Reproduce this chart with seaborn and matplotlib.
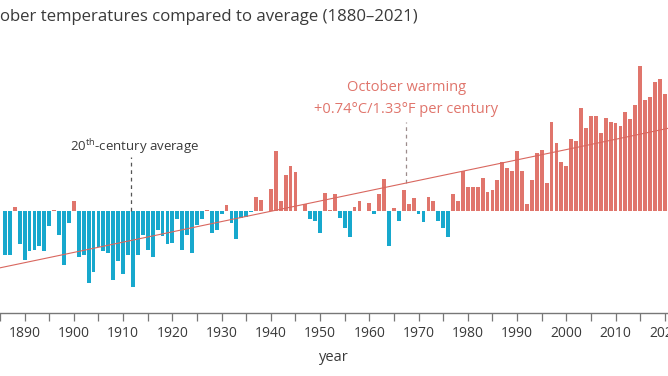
import numpy as np
import pandas as pd
import matplotlib
matplotlib.use("Agg")
import matplotlib.pyplot as plt
import seaborn as sns

# ---- data (October global temperature anomaly vs 20th-century average, deg C) ----
first_year = 1886
anomaly_c = [
    -0.32, -0.32, 0.03, -0.24,                                            # 1886-1889
    -0.35, -0.29, -0.28, -0.25, -0.29, -0.11, 0.01, -0.17, -0.39, -0.09,  # 1890s
    0.07, -0.33, -0.32, -0.52, -0.44, -0.26, -0.29, -0.30, -0.50, -0.36,  # 1900s
    -0.45, -0.32, -0.55, -0.32, -0.17, -0.28, -0.33, -0.14, -0.18, -0.24, # 1910s
    -0.23, -0.06, -0.28, -0.17, -0.30, -0.10, -0.06, 0.01, -0.16, -0.14,  # 1920s
    -0.02, 0.04, -0.09, -0.20, -0.05, -0.04, -0.01, 0.10, 0.08, 0.00,     # 1930s
    0.16, 0.43, 0.07, 0.26, 0.32, 0.28, 0.00, 0.05, -0.06, -0.07,         # 1940s
    -0.16, 0.13, 0.01, 0.12, -0.05, -0.12, -0.19, 0.03, 0.07, 0.00,       # 1950s
    0.06, -0.02, 0.12, 0.23, -0.25, 0.02, -0.07, 0.15, 0.05, 0.09,        # 1960s
    -0.02, -0.08, 0.10, 0.07, -0.07, -0.12, -0.19, 0.12, 0.07, 0.29,      # 1970s
    0.17, 0.17, 0.17, 0.24, 0.14, 0.15, 0.22, 0.35, 0.31, 0.29,           # 1980s
    0.43, 0.29, 0.05, 0.22, 0.42, 0.44, 0.20, 0.64, 0.49, 0.35,           # 1990s
    0.32, 0.52, 0.50, 0.74, 0.60, 0.68, 0.68, 0.56, 0.67, 0.64,           # 2000s
    0.63, 0.61, 0.71, 0.66, 0.76, 1.04, 0.80, 0.82, 0.93, 0.95,           # 2010s
    0.84, 0.89,                                                           # 2020-2021
]
years = list(range(first_year, first_year + len(anomaly_c)))

trend_years = [1880, 2021]
trend_values = [-0.446, 0.597]

tick_years = list(range(1890, 2021, 10))
title = "October temperatures compared to average (1880\u20132021)"

# ---- style ----
sns.set_style("white")
plt.rcParams["font.family"] = ["Open Sans", "DejaVu Sans"]
plt.rcParams["mathtext.fontset"] = "custom"
plt.rcParams["mathtext.rm"] = "Open Sans"

WARM = "#E0756C"
COOL = "#17A8CD"
TEXT = "#3a3a3a"

df = pd.DataFrame({"year": years, "anomaly": anomaly_c})
df["sign"] = np.where(df["anomaly"] >= 0, "warm", "cool")

fig = plt.figure(figsize=(6.68, 3.76), dpi=100)
ax = fig.add_axes([0.0, 1 - 313 / 376, 1.0, (313 - 40) / 376])

sns.barplot(data=df, x="year", y="anomaly", hue="sign",
            palette={"warm": WARM, "cool": COOL}, native_scale=True,
            dodge=False, width=0.78, linewidth=0, saturation=1,
            legend=False, ax=ax)

# trend line
ax.plot(trend_years, trend_values, color="#D9675F", lw=0.8, zorder=5)

ax.set_xlim(1885.84, 2020.65)
ax.set_ylim(-0.734, 1.23)

# annotations
ax.plot([1911.7, 1911.7], [0.0, 0.39], color="#555555", lw=0.9,
        ls=(0, (3, 3)), zorder=4)
ax.text(1912.3, 0.46, r"20$^{\mathrm{th}}$-century average", ha="center",
        va="center", fontsize=9.5, color=TEXT)

ax.plot([1967.5, 1967.5], [0.20, 0.64], color="#9c8c8c", lw=0.9,
        ls=(0, (3, 3)), zorder=4)
ax.text(1967.5, 0.885, "October warming", ha="center", va="center",
        fontsize=10.5, color=WARM)
ax.text(1967.5, 0.727, "+0.74\u00b0C/1.33\u00b0F per century", ha="center",
        va="center", fontsize=10.5, color=WARM)

# axes styling
for s in ["left", "right", "top"]:
    ax.spines[s].set_visible(False)
ax.spines["bottom"].set_color("#777777")
ax.spines["bottom"].set_linewidth(1.0)
ax.set_yticks([])
ax.set_ylabel("")
ax.set_xticks(tick_years)
ax.set_xticklabels([str(y) for y in tick_years])
ax.set_xticks(list(range(1885, 2021, 5)), minor=True)
ax.tick_params(axis="x", which="both", direction="out", length=5.5,
               width=0.9, color="#777777", pad=4, labelsize=10,
               labelcolor=TEXT, bottom=True)
ax.set_xlabel("year", fontsize=10.5, color=TEXT, labelpad=6)

# title: the reference is cropped on the left, so its first letters fall off the canvas
fig.text(418 / 668, 1 - 17 / 376, title, ha="right", va="center",
         fontsize=12.05, color=TEXT)

fig.savefig("out.png", dpi=100)
